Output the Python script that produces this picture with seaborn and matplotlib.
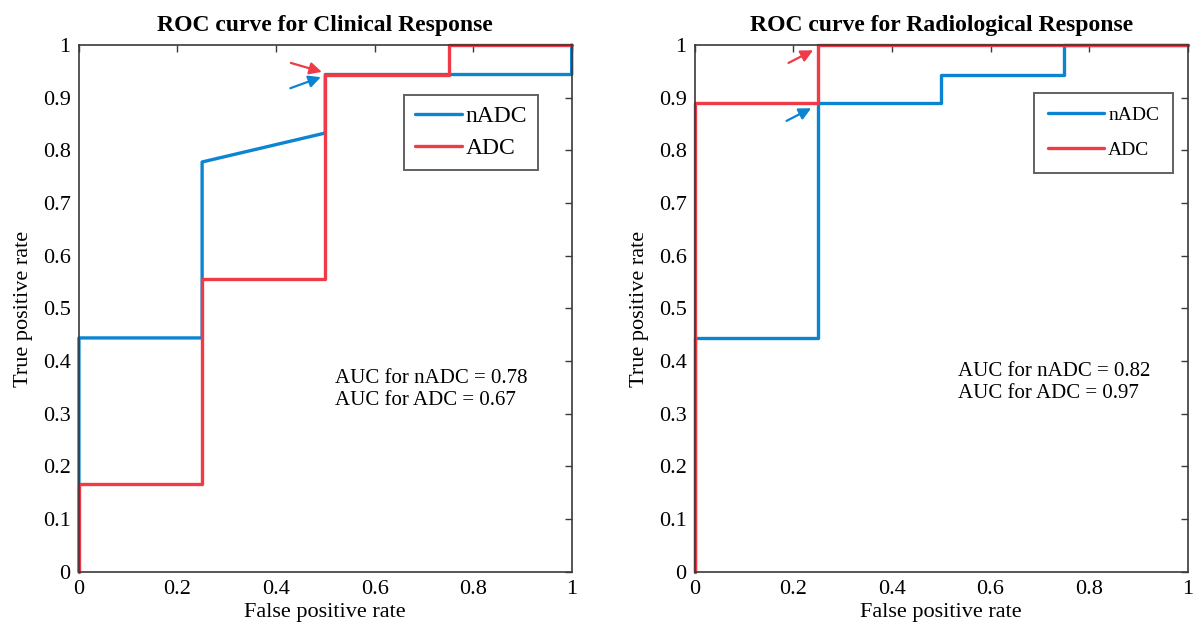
import matplotlib
matplotlib.use("Agg")
import matplotlib.pyplot as plt
import numpy as np
import pandas as pd
import seaborn as sns
from matplotlib.lines import Line2D

# ROC points (false positive rate, true positive rate)
clin_nadc_fpr = [0, 0, 0.25, 0.25, 0.5, 0.5, 0.75, 1.0, 1.0]
clin_nadc_tpr = [0, 0.444, 0.444, 0.778, 0.833, 0.944, 0.944, 0.944, 1.0]
clin_adc_fpr = [0, 0, 0.25, 0.25, 0.5, 0.5, 0.75, 0.75, 1.0]
clin_adc_tpr = [0, 0.167, 0.167, 0.556, 0.556, 0.944, 0.944, 1.0, 1.0]

rad_nadc_fpr = [0, 0, 0.25, 0.25, 0.5, 0.5, 0.75, 0.75, 1.0]
rad_nadc_tpr = [0, 0.444, 0.444, 0.889, 0.889, 0.944, 0.944, 1.0, 1.0]
rad_adc_fpr = [0, 0, 0.25, 0.25, 1.0]
rad_adc_tpr = [0, 0.889, 0.889, 1.0, 1.0]

series_names = ["nADC", "ADC"]
auc_clin = [0.78, 0.67]
auc_rad = [0.82, 0.97]

BLUE = "#0b85d2"
RED = "#ef3b47"
FRAME = "#3a3a3a"


def _frame(fpr_a, tpr_a, fpr_b, tpr_b):
    parts = []
    for name, fpr, tpr in [("nADC", fpr_a, tpr_a), ("ADC", fpr_b, tpr_b)]:
        parts.append(pd.DataFrame({"fpr": fpr, "tpr": tpr, "series": name}))
    return pd.concat(parts, ignore_index=True)


def _style_axes(ax, title):
    ax.set_xlim(0, 1)
    ax.set_ylim(0, 1)
    ax.set_xticks(np.arange(0, 1.01, 0.2))
    ax.set_yticks(np.arange(0, 1.01, 0.1))
    ax.set_xticklabels(["0", "0.2", "0.4", "0.6", "0.8", "1"])
    ax.set_yticklabels(["0"] + [f"{v:.1f}" for v in np.arange(0.1, 0.95, 0.1)] + ["1"])
    ax.tick_params(direction="in", top=True, right=True, length=5, width=1,
                   color=FRAME, labelcolor="black", labelsize=16, pad=6)
    for sp in ax.spines.values():
        sp.set_color(FRAME)
        sp.set_linewidth(1.2)
    ax.set_title(title, fontsize=17, fontweight="bold", pad=10, color="black")
    ax.set_xlabel("False positive rate", fontsize=16, labelpad=3, color="black")
    ax.set_ylabel("True positive rate", fontsize=16, labelpad=7, color="black")
    ax.grid(False)


def _arrow(ax, tail, head, color):
    ax.annotate("", xy=head, xytext=tail,
                arrowprops=dict(arrowstyle="-|>,head_length=0.6,head_width=0.3",
                                color=color, lw=1.6, shrinkA=0, shrinkB=0))


sns.set_theme(style="white")
plt.rcParams["font.family"] = ["Liberation Serif", "DejaVu Serif"]
plt.rcParams["text.color"] = "black"

fig, axes = plt.subplots(1, 2, figsize=(11.96, 6.34), dpi=100)
fig.subplots_adjust(left=0.066, right=0.993, bottom=0.098, top=0.929, wspace=0.25)

panels = [
    (axes[0], _frame(clin_nadc_fpr, clin_nadc_tpr, clin_adc_fpr, clin_adc_tpr),
     "ROC curve for Clinical Response", auc_clin),
    (axes[1], _frame(rad_nadc_fpr, rad_nadc_tpr, rad_adc_fpr, rad_adc_tpr),
     "ROC curve for Radiological Response", auc_rad),
]

for ax, df, title, aucs in panels:
    sns.lineplot(data=df, x="fpr", y="tpr", hue="series", hue_order=series_names,
                 palette=[BLUE, RED], sort=False, estimator=None, lw=2.4,
                 legend=False, ax=ax, clip_on=False)
    _style_axes(ax, title)

handles = [Line2D([], [], color=BLUE, lw=2.4), Line2D([], [], color=RED, lw=2.4)]

leg = axes[0].legend(handles, series_names, loc="upper left", bbox_to_anchor=(0.66, 0.905),
                     fontsize=17, frameon=True, fancybox=False, handlelength=2.0,
                     handletextpad=0.15, borderpad=0.45, labelspacing=0.45, borderaxespad=0)
leg.get_frame().set_edgecolor(FRAME)
leg.get_frame().set_linewidth(1.4)

leg = axes[1].legend(handles, series_names, loc="upper left", bbox_to_anchor=(0.689, 0.909),
                     fontsize=14, frameon=True, fancybox=False, handlelength=2.9,
                     handletextpad=0.2, borderpad=0.7, labelspacing=0.9, borderaxespad=0)
leg.get_frame().set_edgecolor(FRAME)
leg.get_frame().set_linewidth(1.4)

axes[0].text(0.519, 0.346, f"AUC for nADC = {auc_clin[0]:.2f}\nAUC for ADC = {auc_clin[1]:.2f}",
             fontsize=15, va="center", ha="left")
axes[1].text(0.533, 0.36, f"AUC for nADC = {auc_rad[0]:.2f}\nAUC for ADC = {auc_rad[1]:.2f}",
             fontsize=15, va="center", ha="left")

# small arrows pointing at the chosen cut-off points
_arrow(axes[0], (0.43, 0.966), (0.493, 0.949), RED)
_arrow(axes[0], (0.429, 0.918), (0.491, 0.939), BLUE)
_arrow(axes[1], (0.19, 0.966), (0.24, 0.99), RED)
_arrow(axes[1], (0.186, 0.856), (0.236, 0.88), BLUE)

fig.savefig("out.png", dpi=100)
plt.close(fig)
